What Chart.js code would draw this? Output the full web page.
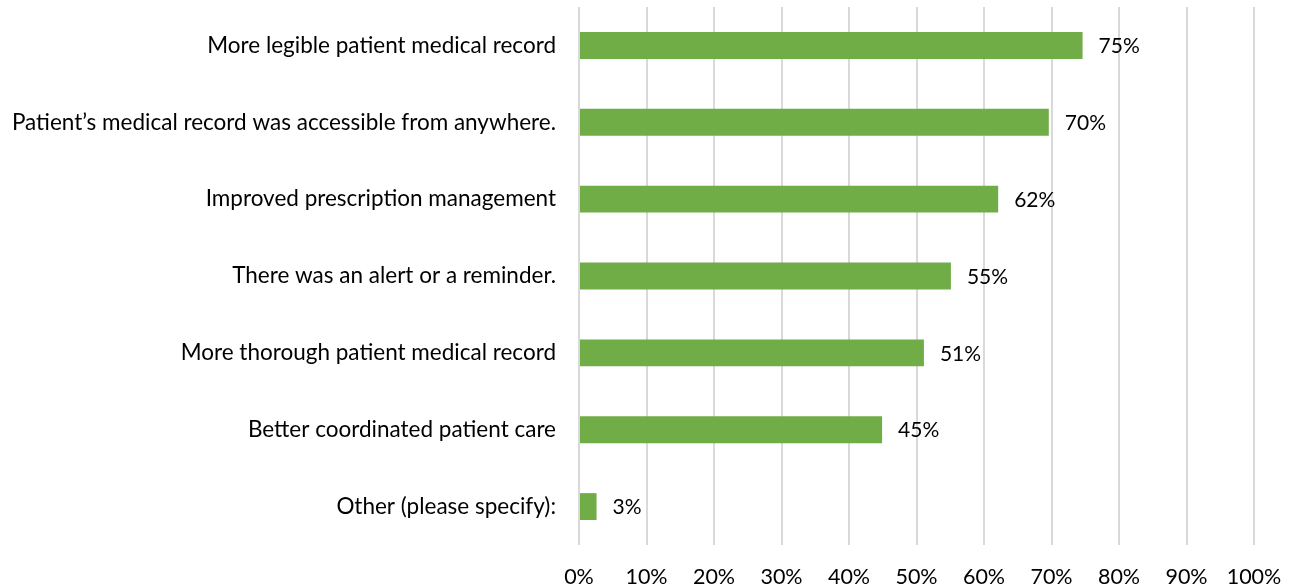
<!DOCTYPE html>
<html><head><meta charset="utf-8">
<script src="https://cdn.jsdelivr.net/npm/chart.js@4"></script>
<style>html,body{margin:0;padding:0;background:#fff}#wrap{width:1295px;height:588px}</style>
</head><body><div id="wrap"><canvas id="c" width="1295" height="588"></canvas></div>
<script>
const categories = [
  "More legible patient medical record",
  "Patient\u2019s medical record was accessible from anywhere.",
  "Improved prescription management",
  "There was an alert or a reminder.",
  "More thorough patient medical record",
  "Better coordinated patient care",
  "Other (please specify):"
];
const values = [74.6, 69.6, 62.1, 55.1, 51.1, 44.9, 2.6];
const tickValues = [0,10,20,30,40,50,60,70,80,90,100];
const FONT = "Lato, 'Open Sans', sans-serif";

const labelPlugin = {
  id: 'valueLabels',
  afterDatasetsDraw(chart) {
    const ctx = chart.ctx;
    const meta = chart.getDatasetMeta(0);
    ctx.save();
    ctx.font = "21px " + FONT;
    ctx.fillStyle = '#000';
    ctx.textAlign = 'left';
    ctx.textBaseline = 'middle';
    meta.data.forEach((bar, i) => {
      ctx.fillText(Math.round(values[i]) + '%', bar.x + 16, bar.y + 1);
    });
    ctx.restore();
  }
};

new Chart(document.getElementById('c'), {
  type: 'bar',
  data: { labels: categories, datasets: [{ data: values, backgroundColor: '#70AD47', barPercentage: 0.35, categoryPercentage: 1 }] },
  options: {
    indexAxis: 'y', responsive: false, animation: false,
    layout: { padding: { top: 7, right: 0, left: 0, bottom: 0 } },
    plugins: { legend: { display: false }, tooltip: { enabled: false } },
    scales: {
      x: {
        min: 0, max: 100,
        afterBuildTicks(s){ s.ticks = tickValues.map(v => ({value: v})); },
        afterFit(s){ s.height = 588 - 545; s.paddingLeft = 0; s.paddingRight = 1295 - 1254; },
        grid: { color: '#D9D9D9', lineWidth: 2, drawTicks: false },
        border: { display: false },
        ticks: { color: '#000', font: { size: 21.5, family: FONT }, padding: 19, callback: v => v + '%', maxRotation: 0, autoSkip: false }
      },
      y: {
        afterFit(s){ s.width = 579; s.paddingTop = 0; s.paddingBottom = 0; },
        grid: { display: false, drawTicks: false },
        border: { display: false },
        ticks: { color: '#000', font: { size: 22.5, family: FONT }, padding: 23, autoSkip: false }
      }
    }
  },
  plugins: [labelPlugin]
});
</script></body></html>
